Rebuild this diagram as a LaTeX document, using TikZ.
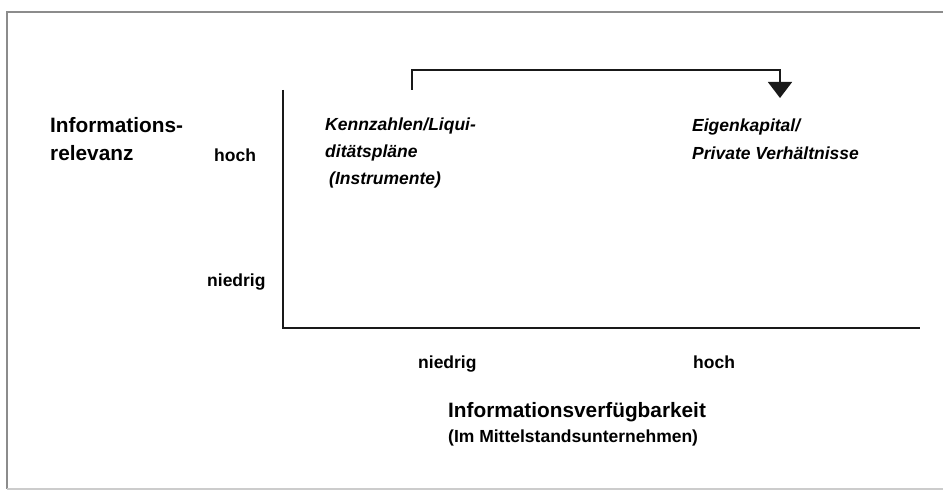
\documentclass[tikz,border=0pt]{standalone}
\usepackage{fontspec}
\setmainfont{Liberation Sans}
\usetikzlibrary{arrows.meta}
\tikzset{
  lbl/.style={anchor=base west, inner sep=0pt, font=\fontsize{17.5}{21}\bfseries},
  biglbl/.style={anchor=base west, inner sep=0pt, font=\fontsize{20.8}{25}\bfseries},
  itlbl/.style={anchor=base west, inner sep=0pt, font=\fontsize{17.5}{21}\bfseries\itshape},
  axisline/.style={line width=2pt, black!90},
  link/.style={line width=1.4pt, black!90, -{Triangle[width=24pt,length=16pt]}},
  frame/.style={line width=1.5pt, black!45}
}
\begin{document}
\begin{tikzpicture}[x=1pt, y=-1pt]
  \useasboundingbox (0,0) rectangle (943,492);
  % outer frame, open to the right
  \draw[frame] (943,12) -- (7,12) -- (7,489);
  \draw[frame, black!20] (7,489) -- (943,489);

  % axes
  \coordinate (ytop) at (283,90);
  \coordinate (origin) at (283,328);
  \coordinate (xend) at (920,328);
  \draw[axisline] (ytop) -- (origin) -- (xend);

  % vertical axis labels
  \node[biglbl] (yname1) at (50,133) {Informations-};
  \node[biglbl] (yname2) at (50,161) {relevanz};
  \node[lbl] (yhigh) at (214,162) {hoch};
  \node[lbl] (ylow) at (207,286) {niedrig};

  % horizontal axis labels
  \node[lbl] (xlow) at (418,368) {niedrig};
  \node[lbl] (xhigh) at (693,368) {hoch};
  \node[biglbl] (xname) at (448,417) {Informationsverfügbarkeit};
  \node[lbl] (xsub) at (448,442) {(Im Mittelstandsunternehmen)};

  % quadrant entries
  \node[itlbl] (kz1) at (325,131) {Kennzahlen/Liqui-};
  \node[itlbl] (kz2) at (325,158) {ditätspläne};
  \node[itlbl] (kz3) at (329,185) {(Instrumente)};
  \node[itlbl] (ek1) at (692,132) {Eigenkapital/};
  \node[itlbl] (ek2) at (692,160) {Private Verhältnisse};

  % connector from instruments to equity
  \coordinate (linkstart) at (412,90);
  \coordinate (linkend) at (780,98);
  \draw[link] (linkstart) -- (412,70) -| (linkend);
\end{tikzpicture}
\end{document}
